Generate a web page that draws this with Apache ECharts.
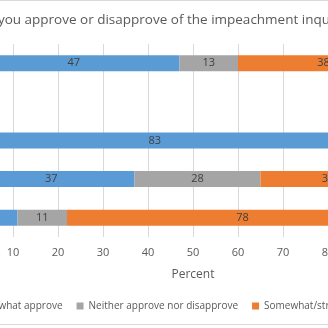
<!DOCTYPE html>
<html><head><meta charset="utf-8">
<script src="https://cdn.jsdelivr.net/npm/echarts@6/dist/echarts.min.js"></script>
<style>
html,body{margin:0;padding:0;width:328px;height:328px;overflow:hidden;background:#fff;position:relative}
#c{position:absolute;left:-150px;top:0;width:628px;height:328px}
#bt{position:absolute;left:0;top:0;width:328px;height:1px;background:#d9d9d9}
#bb{position:absolute;left:0;top:324px;width:328px;height:1px;background:#d9d9d9}
</style></head><body>
<div id="c"></div><div id="bt"></div><div id="bb"></div>
<script>
const categories = ['Total', '', 'Democrats', 'Independents', 'Republicans'];
const approve = [47, '-', 83, 37, 11];
const neither = [13, '-', 10, 28, 11];
const disapprove = [38, '-', 6, 30, 78];
const xTicks = [0, 10, 20, 30, 40, 50, 60, 70, 80, 90, 100];
const seriesNames = ['Strongly/somewhat approve', 'Neither approve nor disapprove', 'Somewhat/strongly disapprove'];
const colors = ['#5B9BD5', '#A5A5A5', '#ED7D31'];
const FONT = 'Open Sans';
const chart = echarts.init(document.getElementById('c'));
const mk = (name, data, color) => ({
  name, type: 'bar', stack: 'a', data, barWidth: 16,
  itemStyle: { color },
  label: { show: true, position: 'inside', color: '#404040', fontSize: 11, fontFamily: FONT,
    formatter: p => p.value }
});
chart.setOption({
  animation: false,
  title: { text: 'Do you approve or disapprove of the impeachment inquiry?', left: 'center', top: 8,
    textStyle: { color: '#595959', fontSize: 13.5, fontWeight: 'normal', fontFamily: FONT } },
  grid: { left: 118, width: 450, top: 44, height: 193 },
  legend: { bottom: 12, left: 'center', itemWidth: 7, itemHeight: 7, itemGap: 14, icon: 'rect',
    textStyle: { color: '#595959', fontSize: 10, fontFamily: FONT } },
  xAxis: { type: 'value', min: 0, max: 100, interval: 10,
    name: 'Percent', nameLocation: 'middle', nameGap: 32,
    nameTextStyle: { color: '#595959', fontSize: 12, fontFamily: FONT },
    axisLabel: { color: '#595959', fontSize: 11, fontFamily: FONT, margin: 10,
      formatter: v => xTicks.includes(v) ? String(v) : '' },
    splitLine: { lineStyle: { color: '#d9d9d9' } },
    axisLine: { show: false }, axisTick: { show: false } },
  yAxis: { type: 'category', data: categories, inverse: true,
    axisLine: { lineStyle: { color: '#d9d9d9' } }, axisTick: { show: false },
    axisLabel: { color: '#595959', fontSize: 11, fontFamily: FONT } },
  series: [mk(seriesNames[0], approve, colors[0]), mk(seriesNames[1], neither, colors[1]), mk(seriesNames[2], disapprove, colors[2])]
});
</script></body></html>
